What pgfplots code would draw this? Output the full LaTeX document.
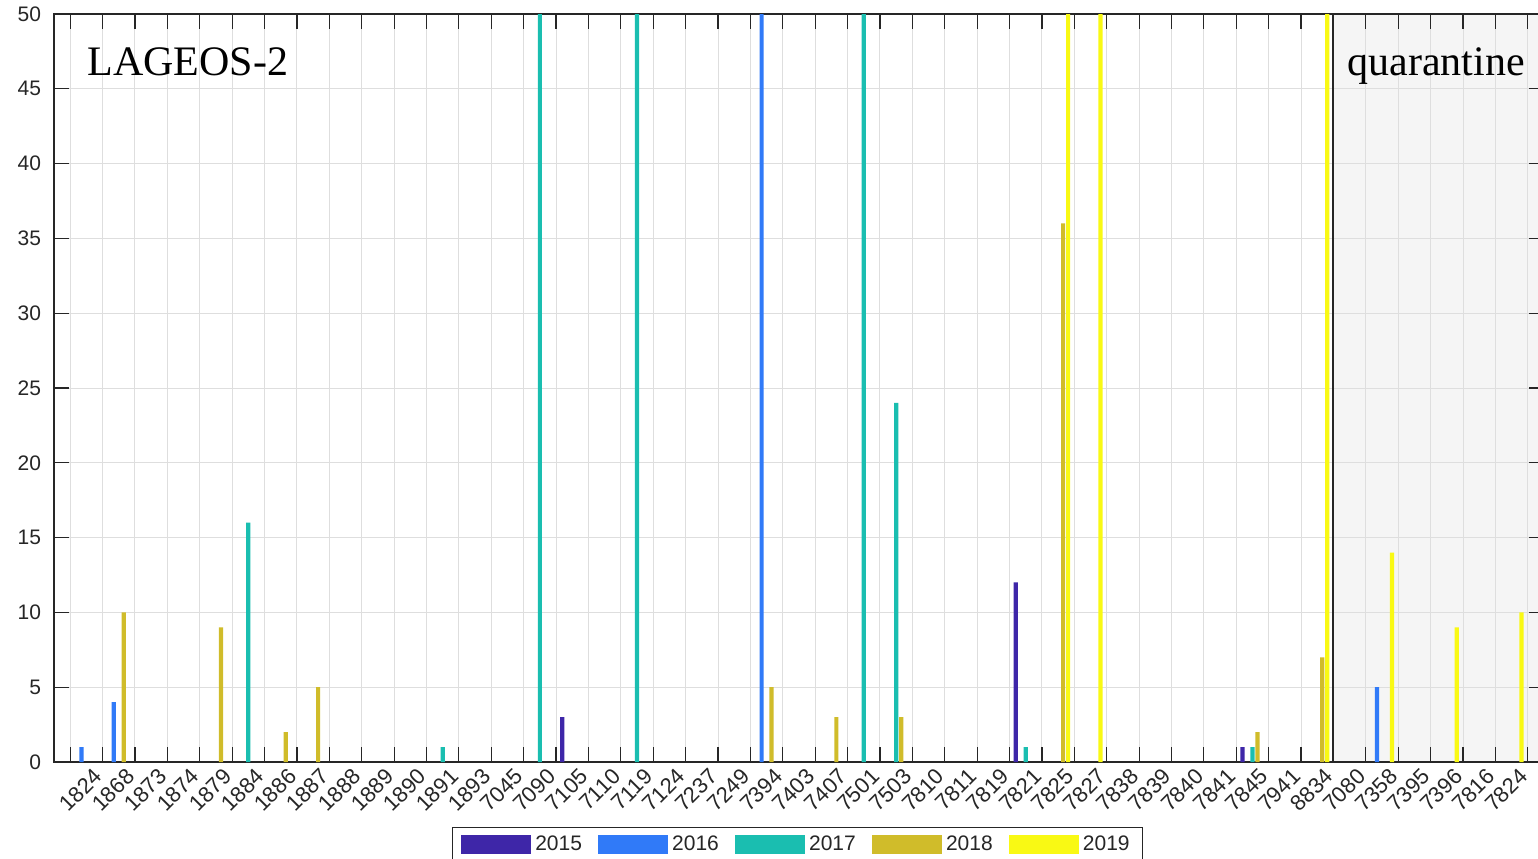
\documentclass[border=0pt]{standalone}
\usepackage{pgfplots}
\pgfplotsset{compat=1.18}
\usepackage{fontspec}
\setmainfont{Liberation Sans}
\newfontfamily\tnr{Liberation Serif}
\definecolor{c15}{RGB}{62,38,168}
\definecolor{c16}{RGB}{48,122,248}
\definecolor{c17}{RGB}{26,190,176}
\definecolor{c18}{RGB}{208,188,42}
\definecolor{c19}{RGB}{249,249,20}
\definecolor{axc}{RGB}{38,38,38}
\definecolor{qg}{RGB}{245,245,245}
\definecolor{gridc}{RGB}{222,222,222}
\begin{document}
\begin{tikzpicture}
\begin{axis}[
 set layers,
 scale only axis, width=745pt, height=374pt,
 xmin=0, xmax=46, ymin=0, ymax=50,
 xtick={0.5,1.5,...,45.5},
 xticklabels={{},1824,1868,1873,1874,1879,1884,1886,1887,1888,1889,1890,1891,1893,7045,7090,7105,7110,7119,7124,7237,7249,7394,7403,7407,7501,7503,7810,7811,7819,7821,7825,7827,7838,7839,7840,7841,7845,7941,8834,7080,7358,7395,7396,7816,7824},
 ytick={0,5,...,50},
 grid=major, major grid style={gridc, line width=0.5pt},
 tick align=inside, major tick length=7.5pt,
 tick style={axc, line width=0.6pt},
 axis line style={axc, line width=0.75pt},
 every tick label/.append style={font=\fontsize{10.5}{12}\selectfont, text=axc},
 /pgf/number format/assume math mode=true,
 xticklabel style={xshift=-5pt, yshift=-1pt, rotate=45, anchor=north east, inner sep=1pt, font=\fontsize{11}{12}\selectfont},
 yticklabel style={xshift=-3pt},
 legend columns=5,
 legend style={at={(axis description cs:0.499,-0.0869)}, anchor=north, draw=axc, line width=0.5pt,
   font=\fontsize{10.5}{12}\selectfont, text=axc, inner xsep=4.5pt, inner ysep=2pt,
   /tikz/every even column/.append style={column sep=6.1pt}},
 legend image code/.code={\fill[#1] (0pt,-4.75pt) rectangle (35pt,4.75pt);},
]
\addplot[fill=qg, draw=none, on layer=axis background, forget plot] coordinates {(39.5,0) (39.5,50) (46,50) (46,0)} \closedcycle;

\addplot[ybar, bar width=0.13, bar shift=-0.308, fill=c15, draw=none, forget plot] coordinates {(16,3) (30,12) (37,1)};
\addplot[ybar, bar width=0.13, bar shift=-0.154, fill=c16, draw=none, forget plot] coordinates {(1,1) (2,4) (22,100) (41,5)};
\addplot[ybar, bar width=0.13, bar shift=0, fill=c17, draw=none, forget plot] coordinates {(6,16) (12,1) (15,100) (18,100) (25,100) (26,24) (30,1) (37,1)};
\addplot[ybar, bar width=0.13, bar shift=0.154, fill=c18, draw=none, forget plot] coordinates {(2,10) (5,9) (7,2) (8,5) (22,5) (24,3) (26,3) (31,36) (37,2) (39,7)};
\addplot[ybar, bar width=0.13, bar shift=0.308, fill=c19, draw=none, forget plot] coordinates {(31,100) (32,100) (39,100) (41,14) (43,9) (45,10)};

\addplot[axc, line width=1pt, forget plot] coordinates {(39.5,0) (39.5,50)};

\addlegendimage{fill=c15, draw=none}\addlegendentry{2015}
\addlegendimage{fill=c16, draw=none}\addlegendentry{2016}
\addlegendimage{fill=c17, draw=none}\addlegendentry{2017}
\addlegendimage{fill=c18, draw=none}\addlegendentry{2018}
\addlegendimage{fill=c19, draw=none}\addlegendentry{2019}

\node[anchor=base west, inner sep=0, font=\tnr\fontsize{21}{25}\selectfont] at (axis cs:1.019,45.92) {LAGEOS-2};
\node[anchor=base west, inner sep=0, font=\tnr\fontsize{21}{25}\selectfont] at (axis cs:39.92,45.92) {quarantine};
\coordinate (SW) at (rel axis cs:0,0);
\end{axis}
\pgfresetboundingbox
\path[use as bounding box] ([xshift=-27pt,yshift=-48pt]SW) rectangle ([xshift=742pt,yshift=381pt]SW);
\end{tikzpicture}
\end{document}
